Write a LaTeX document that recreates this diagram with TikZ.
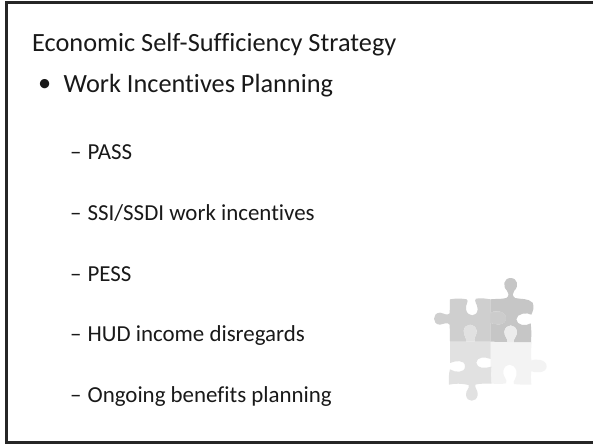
\documentclass[tikz,border=0pt]{standalone}
\usepackage{fontspec}
\setmainfont[Ligatures=NoCommon]{Carlito}
\tikzset{
  title text/.style={anchor=base west,inner sep=0pt,font=\fontsize{26.3}{30}\selectfont,text=black!90},
  lead text/.style={anchor=base west,inner sep=0pt,font=\fontsize{26.3}{30}\selectfont,text=black!90},
  sub text/.style={anchor=base west,inner sep=0pt,font=\fontsize{22.9}{27}\selectfont,text=black!90},
  frame/.style={draw=black!85,line width=2.4pt},
}
\definecolor{pA}{HTML}{CFCFCF}
\definecolor{pB}{HTML}{C6C6C6}
\definecolor{pC}{HTML}{E1E1E1}
\definecolor{pD}{HTML}{F3F3F3}
\newcommand{\subdash}{–\kern 6pt}
\begin{document}
\begin{tikzpicture}[x=1pt,y=-1pt]
\useasboundingbox (0,0) rectangle (593,444);
\fill[white] (0,0) rectangle (593,444);
\draw[frame] (6.5,2.5) rectangle (596,442.5);
\node[title text] (title) at (32,51.5) {Economic Self-Sufficiency Strategy};
\node[lead text] (bul) at (38,91) {\textbullet};
\node[lead text] (lead) at (63.5,92.7) {Work Incentives Planning};
\node[sub text] (i1) at (70,159) {\subdash PASS};
\node[sub text] (i2) at (70,220) {\subdash SSI/SSDI work incentives};
\node[sub text] (i3) at (70,281) {\subdash PESS};
\node[sub text] (i4) at (70,341) {\subdash HUD income disregards};
\node[sub text] (i5) at (70,402) {\subdash Ongoing benefits planning};
\begin{scope}[shift={(440,290)},x=0.3333pt,y=-0.3333pt]
 % piece D
 \fill[pD] (152,155) .. controls (190,152) and (240,158) .. (275,156)
   .. controls (273,175) and (273,195) .. (274,212) .. controls (285,205) and (320,208) .. (320,229)
   .. controls (320,250) and (285,250) .. (274,243) .. controls (272,258) and (273,270) .. (274,284)
   .. controls (255,284) and (235,284) .. (222,282) .. controls (215,275) and (235,262) .. (229,242)
   .. controls (222,218) and (195,218) .. (190,242) .. controls (186,258) and (205,270) .. (198,280)
   .. controls (185,283) and (165,281) .. (152,281) -- cycle;
 % piece C
 \fill[pC] (30,155) -- (152,155) -- (152,207) .. controls (135,200) and (110,200) .. (109,218)
   .. controls (110,236) and (135,236) .. (154,230) .. controls (152,250) and (153,265) .. (154,281)
   .. controls (138,281) and (118,280) .. (106,284) .. controls (103,295) and (115,300) .. (113,315)
   .. controls (110,338) and (80,338) .. (78,315) .. controls (77,300) and (90,295) .. (86,285)
   .. controls (65,280) and (45,280) .. (27,284) .. controls (26,270) and (26,250) .. (30,238)
   .. controls (45,248) and (75,250) .. (75,229) .. controls (75,208) and (45,212) .. (30,219) -- cycle;
 % piece A
 \fill[pA] (30,28) .. controls (45,25) and (65,25) .. (80,28)
   .. controls (88,33) and (76,42) .. (78,58) .. controls (82,82) and (112,82) .. (113,58)
   .. controls (113,42) and (100,33) .. (108,26) .. controls (122,23) and (138,26) .. (151,28)
   -- (151,68) .. controls (165,60) and (198,62) .. (198,85) .. controls (198,108) and (165,106) .. (151,98)
   -- (151,155) -- (104,155)
   .. controls (99,145) and (111,138) .. (110,122) .. controls (106,98) and (74,98) .. (71,122)
   .. controls (70,138) and (82,145) .. (78,155)
   -- (30,155) -- (29,104) .. controls (22,95) and (12,102) .. (0,104)
   .. controls (-24,104) and (-24,68) .. (0,68)
   .. controls (12,70) and (22,78) .. (29,70) -- cycle;
 % piece B
 \fill[pB] (151,28) .. controls (165,26) and (185,28) .. (199,24) .. controls (208,18) and (207,8) .. (201,2)
   .. controls (186,-12) and (192,-36) .. (212,-36) .. controls (232,-36) and (238,-12) .. (223,2)
   .. controls (217,8) and (216,18) .. (225,24) .. controls (240,28) and (265,24) .. (278,38)
   .. controls (284,52) and (278,65) .. (274,74) .. controls (262,66) and (230,70) .. (229,88)
   .. controls (230,106) and (258,110) .. (272,100) .. controls (275,120) and (274,140) .. (273,156)
   -- (222,156) .. controls (218,147) and (232,140) .. (231,125) .. controls (228,100) and (196,100) .. (193,125)
   .. controls (192,140) and (205,147) .. (202,156) -- (151,155) -- (151,98)
   .. controls (165,106) and (198,108) .. (198,85) .. controls (198,62) and (165,60) .. (151,68) -- cycle;
 % overlapping knobs
 \fill[pA!70!pB] (151,72) .. controls (165,62) and (198,64) .. (198,85) .. controls (198,106) and (165,104) .. (151,94) -- cycle;
 \fill[pC] (104,155) .. controls (99,145) and (111,138) .. (110,122) .. controls (106,98) and (74,98) .. (71,122)
   .. controls (70,138) and (82,145) .. (78,155) -- cycle;
 \fill[pD!85!pB] (222,156) .. controls (218,147) and (232,140) .. (231,125) .. controls (228,100) and (196,100) .. (193,125)
   .. controls (192,140) and (205,147) .. (202,156) -- cycle;
\end{scope}
\end{tikzpicture}
\end{document}
